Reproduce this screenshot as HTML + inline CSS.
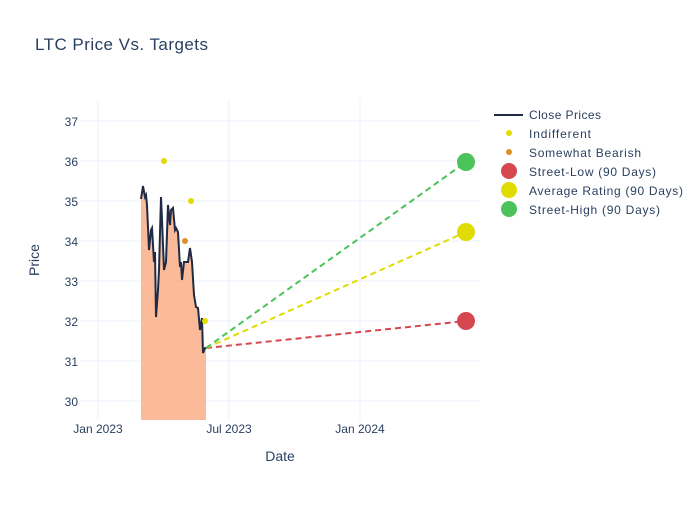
<!DOCTYPE html>
<html><head><style>body{margin:0;background:#fff}</style></head><body>
<svg width="700" height="500" xmlns="http://www.w3.org/2000/svg" font-family="'Liberation Sans',sans-serif">
<rect width="700" height="500" fill="#fff"/>
<text x="35" y="50" font-size="17" fill="#2a3f5f" textLength="173">LTC Price Vs. Targets</text>
<g stroke="#ebf0f8" stroke-width="1">
<line x1="98" y1="100" x2="98" y2="420"/><line x1="229" y1="100" x2="229" y2="420"/><line x1="360" y1="100" x2="360" y2="420"/>
<line x1="80" y1="121" x2="480" y2="121"/><line x1="80" y1="161" x2="480" y2="161"/><line x1="80" y1="201" x2="480" y2="201"/><line x1="80" y1="241" x2="480" y2="241"/><line x1="80" y1="281" x2="480" y2="281"/><line x1="80" y1="321" x2="480" y2="321"/><line x1="80" y1="361" x2="480" y2="361"/><line x1="80" y1="401" x2="480" y2="401"/>
</g>
<g font-size="12" fill="#2a3f5f" text-anchor="end">
<text x="78" y="126">37</text><text x="78" y="166">36</text><text x="78" y="206">35</text><text x="78" y="246">34</text><text x="78" y="286">33</text><text x="78" y="326">32</text><text x="78" y="366">31</text><text x="78" y="406">30</text>
</g>
<g font-size="12" fill="#2a3f5f" text-anchor="middle">
<text x="98" y="433">Jan 2023</text><text x="229" y="433">Jul 2023</text><text x="360" y="433">Jan 2024</text>
<text x="280" y="461" font-size="14">Date</text>
</g>
<text transform="translate(39,260) rotate(-90)" font-size="14" fill="#2a3f5f" text-anchor="middle">Price</text>
<polygon fill="#fbb38e" fill-opacity="0.9" points="141,420 141,199 143,186 145,197 146,195 147,205 149,250 151,230 152,228 154,262 155,252 156,317 158,290 159,270 161,197 162,220 164,270 166,262 168,205 170,225 171,210 173,208 175,230 176,228 178,232 180,267 181,262 182,280 184,262 186,262 188,262 190,248 192,262 194,295 196,307 198,308 200,330 202,318 203,353 205,348 206,348 206,420"/>
<polyline fill="none" stroke="#1f2a44" stroke-width="2" points="141,199 143,186 145,197 146,195 147,205 149,250 151,230 152,228 154,262 155,252 156,317 158,290 159,270 161,197 162,220 164,270 166,262 168,205 170,225 171,210 173,208 175,230 176,228 178,232 180,267 181,262 182,280 184,262 186,262 188,262 190,248 192,262 194,295 196,307 198,308 200,330 202,318 203,353 205,348 206,348"/>
<g stroke-width="2" stroke-dasharray="6,4" fill="none">
<line x1="206" y1="348" x2="466" y2="321" stroke="#d6474f"/>
<line x1="206" y1="348" x2="466" y2="232" stroke="#e0dc00"/>
<line x1="206" y1="348" x2="466" y2="162" stroke="#4cc25a"/>
</g>
<circle cx="164" cy="161" r="3" fill="#e0dc00"/><circle cx="191" cy="201" r="3" fill="#e0dc00"/><circle cx="205" cy="321" r="3" fill="#e0dc00"/>
<circle cx="185" cy="241" r="3" fill="#e0902a"/>
<circle cx="466" cy="321" r="9" fill="#d6474f"/><circle cx="466" cy="232" r="9" fill="#e0dc00"/><circle cx="466" cy="162" r="9" fill="#4cc25a"/>
<g font-size="12" fill="#2a3f5f">
<line x1="494" y1="115" x2="523" y2="115" stroke="#1f2a44" stroke-width="2"/><text x="529" y="119" textLength="72">Close Prices</text>
<circle cx="509" cy="133" r="3" fill="#e0dc00"/><text x="529" y="138" textLength="62">Indifferent</text>
<circle cx="509" cy="152" r="3" fill="#e0902a"/><text x="529" y="157" textLength="112">Somewhat Bearish</text>
<circle cx="509" cy="171" r="8" fill="#d6474f"/><text x="529" y="176" textLength="127">Street-Low (90 Days)</text>
<circle cx="509" cy="190" r="8" fill="#e0dc00"/><text x="529" y="195" textLength="154">Average Rating (90 Days)</text>
<circle cx="509" cy="209" r="8" fill="#4cc25a"/><text x="529" y="214" textLength="131">Street-High (90 Days)</text>
</g>
</svg>
</body></html>
